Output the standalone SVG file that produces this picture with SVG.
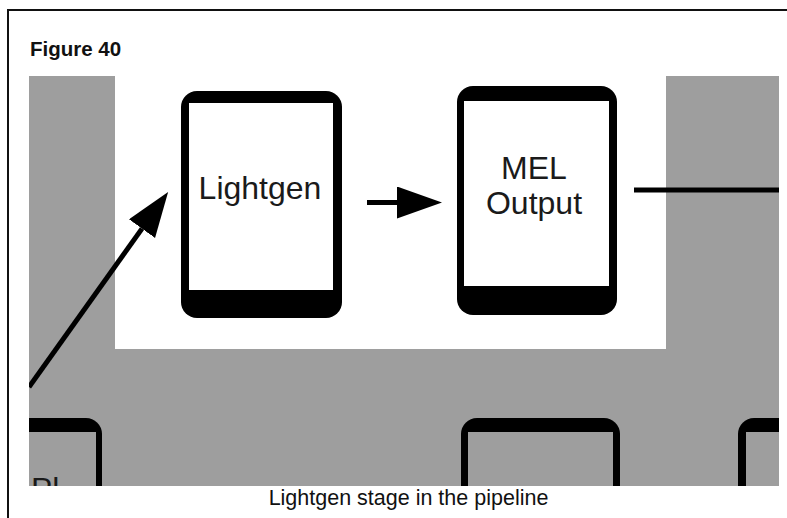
<svg xmlns="http://www.w3.org/2000/svg" width="787" height="518" viewBox="0 0 787 518">
  <style>
    .lbl { font-family: "Liberation Sans", Arial, sans-serif; font-size: 32px; fill: #1a1a1a; }
    .frame { fill: none; stroke: #111; stroke-width: 2; }
    .shell { fill: #000; }
    .face { fill: #fff; }
    .face-dim { fill: #9e9e9e; }
    .conn { stroke: #000; stroke-width: 5; fill: none; }
  </style>
  <defs>
    <marker id="ah" markerUnits="userSpaceOnUse" markerWidth="46" markerHeight="34" refX="0" refY="16" orient="auto">
      <path d="M0,0 L45,16 L0,32 Z" fill="#000"/>
    </marker>
    <clipPath id="area">
      <rect x="29" y="76" width="750" height="410"/>
    </clipPath>
  </defs>

  <rect x="0" y="0" width="787" height="518" fill="#fff"/>
  <path class="frame" d="M787,10 H8 V518"/>
  <text x="30" y="56" style="font-family: 'Liberation Sans', Arial, sans-serif; font-size: 20.5px; font-weight: bold; fill: #111;">Figure 40</text>

  <g clip-path="url(#area)">
    <rect x="29" y="76" width="750" height="410" fill="#9e9e9e"/>
    <rect x="115" y="76" width="551" height="273" fill="#fff"/>

    <g id="node-lightgen">
      <rect class="shell" x="181" y="91" width="161" height="227" rx="16"/>
      <rect class="face" x="189" y="103" width="144" height="187"/>
      <text class="lbl" x="260" y="199" text-anchor="middle">Lightgen</text>
    </g>

    <g id="node-mel-output">
      <rect class="shell" x="457" y="86" width="160" height="229" rx="16"/>
      <rect class="face" x="464" y="101" width="145" height="185"/>
      <text class="lbl" x="534" y="179" text-anchor="middle">MEL</text>
      <text class="lbl" x="534" y="214" text-anchor="middle">Output</text>
    </g>

    <g id="node-bottom-left">
      <rect class="shell" x="-60" y="418" width="162" height="120" rx="16"/>
      <rect class="face-dim" x="-53" y="432" width="149" height="110"/>
      <text class="lbl" x="31" y="500">Pl</text>
    </g>

    <g id="node-bottom-mid">
      <rect class="shell" x="461" y="418" width="159" height="120" rx="16"/>
      <rect class="face-dim" x="468" y="432" width="145" height="110"/>
    </g>

    <g id="node-bottom-right">
      <rect class="shell" x="738" y="418" width="160" height="120" rx="16"/>
      <rect class="face-dim" x="746" y="432" width="145" height="110"/>
    </g>

    <g id="connectors">
      <line class="conn" x1="29" y1="387" x2="142" y2="228.6" marker-end="url(#ah)"/>
      <line class="conn" x1="367" y1="202.5" x2="397" y2="202.5" marker-end="url(#ah)"/>
      <line class="conn" x1="634" y1="190" x2="779" y2="190"/>
    </g>
  </g>

  <text x="408.5" y="505" text-anchor="middle" style="font-family: 'Liberation Sans', Arial, sans-serif; font-size: 21.5px; fill: #111;">Lightgen stage in the pipeline</text>
</svg>
